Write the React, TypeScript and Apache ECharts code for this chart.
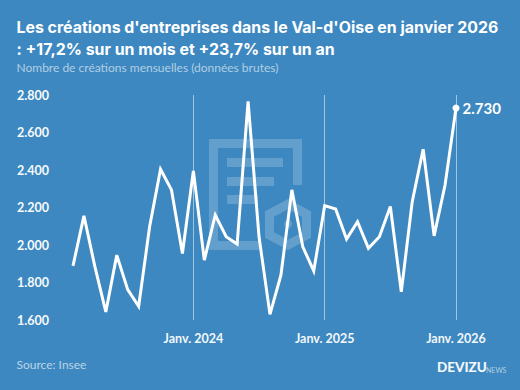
import React, { useEffect, useRef } from "react";
import * as echarts from "echarts";

const months = ["févr. 2023","mars 2023","avr. 2023","mai 2023","juin 2023","juil. 2023","août 2023","sept. 2023","oct. 2023","nov. 2023","déc. 2023","Janv. 2024","févr. 2024","mars 2024","avr. 2024","mai 2024","juin 2024","juil. 2024","août 2024","sept. 2024","oct. 2024","nov. 2024","déc. 2024","Janv. 2025","févr. 2025","mars 2025","avr. 2025","mai 2025","juin 2025","juil. 2025","août 2025","sept. 2025","oct. 2025","nov. 2025","déc. 2025","Janv. 2026"];
const creations = [1889,2155,1885,1643,1946,1762,1673,2097,2404,2294,1955,2395,1919,2160,2044,2005,2766,2044,1630,1839,2294,1990,1862,2210,2192,2032,2124,1982,2044,2205,1750,2231,2511,2049,2320,2730];
const yTicks = ["1.600","1.800","2.000","2.200","2.400","2.600","2.800"];
const BG = "#3d88c0";
const FONT = "Lato";
const TITLE_FONT = "Inter";

export default function App() {
  const ref = useRef<HTMLDivElement>(null);
  useEffect(() => {
    const chart = echarts.init(ref.current!, null, { renderer: "svg" });
    const wm = "rgba(255,255,255,0.2)";
    chart.setOption({
      animation: false,
      backgroundColor: BG,
      grid: { left: 73, right: 64, top: 95, bottom: 70 },
      xAxis: {
        type: "category", boundaryGap: false, data: months,
        axisLine: { show: false }, axisTick: { show: false },
        axisLabel: { interval: (i: number, v: string) => v.startsWith("Janv."), color: "#f2f7fb", fontFamily: FONT, fontWeight: 700, fontSize: 12.5, margin: 12 },
        splitLine: { show: true, interval: (i: number, v: string) => v.startsWith("Janv."), lineStyle: { color: "rgba(255,255,255,0.5)", width: 1 } },
      },
      yAxis: {
        type: "value", min: 1600, max: 2800, interval: 200,
        axisLine: { show: false }, axisTick: { show: false }, splitLine: { show: false },
        axisLabel: {
          formatter: (v: number) => yTicks[(v - 1600) / 200],
          align: "left", margin: 56, color: "#f7fafc", fontFamily: FONT, fontWeight: 700, fontSize: 12.5,
        },
      },
      series: [{
        type: "line", data: creations, symbol: "circle", symbolSize: 0, showSymbol: false,
        lineStyle: { color: "#ffffff", width: 3, join: "miter" }, z: 5,
        markPoint: {
          symbol: "circle", symbolSize: 7, itemStyle: { color: "#fff" },
          data: [{ coord: ["Janv. 2026", 2730], value: "2.730" }],
          label: { show: true, position: "right", distance: 3, formatter: "2.730", color: "#fff", fontFamily: FONT, fontWeight: 700, fontSize: 15 },
        },
      }],
      graphic: [
        { type: "text", left: 16.5, top: 16, style: { text: "Les créations d'entreprises dans le Val-d'Oise en janvier 2026\n: +17,2% sur un mois et +23,7% sur un an", fill: "#fff", font: `700 15.9px ${TITLE_FONT}`, lineHeight: 22 } },
        { type: "text", left: 16.5, top: 61, style: { text: "Nombre de créations mensuelles (données brutes)", fill: "rgba(255,255,255,0.6)", font: `400 12px ${FONT}` } },
        { type: "text", left: 16.5, top: 358, style: { text: "Source: Insee", fill: "rgba(255,255,255,0.65)", font: `400 12px ${FONT}` } },
        { type: "text", left: 437, top: 360, style: { text: "DEVIZU", fill: "#f4f8fb", font: `900 13.5px ${FONT}` } },
        { type: "text", left: 486, top: 366, style: { text: "NEWS", fill: "rgba(255,255,255,0.6)", font: `400 7px ${FONT}` } },
        { type: "group", silent: true, children: [
          { type: "polyline", z: -10, shape: { points: [[297.5,185],[297.5,143.5],[213.5,143.5],[213.5,245.5],[259,245.5]] }, style: { stroke: wm, lineWidth: 9, fill: "none" } },
          { type: "rect", z: -10, shape: { x: 227, y: 158, width: 56, height: 9 }, style: { fill: wm } },
          { type: "rect", z: -10, shape: { x: 227, y: 177, width: 47, height: 9 }, style: { fill: wm } },
          { type: "rect", z: -10, shape: { x: 227, y: 195, width: 31, height: 9 }, style: { fill: wm } },
          { type: "polygon", z: -10, shape: { points: [[288,204],[306.5,214],[306.5,235],[288,245],[269.5,235],[269.5,214]] }, style: { stroke: wm, lineWidth: 9, fill: "none" } },
          { type: "circle", z: -10, shape: { cx: 288, cy: 224, r: 4 }, style: { fill: wm } },
        ] },
      ],
    });
    return () => chart.dispose();
  }, []);
  return <div ref={ref} style={{ position: "fixed", left: 0, top: 0, width: 520, height: 390 }} />;
}
